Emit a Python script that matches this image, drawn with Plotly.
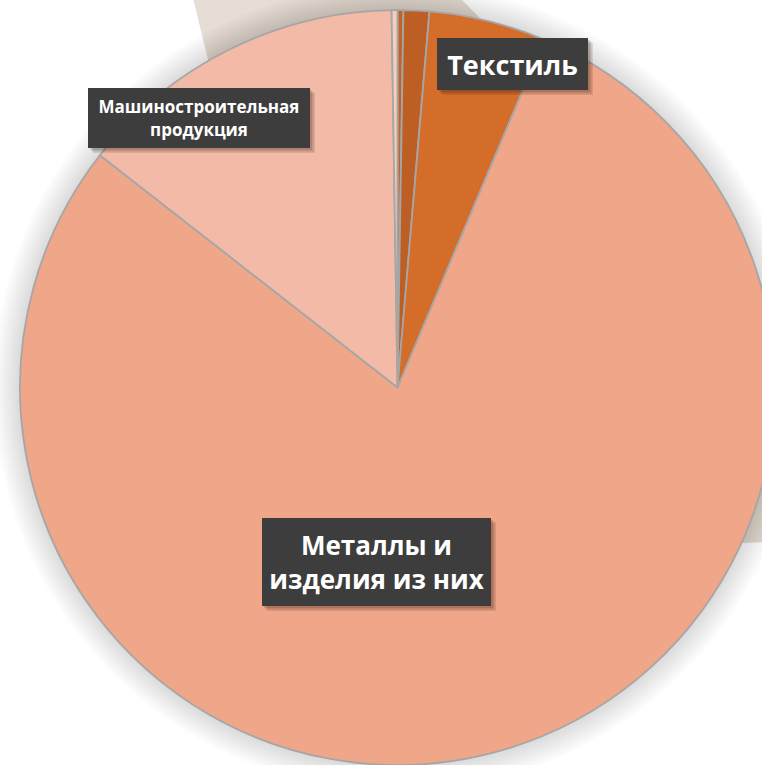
import plotly.graph_objects as go

# ---- data ----
labels = [
    "Продукция химической промышленности",
    "Древесина и изделия из неё",
    "Текстиль",
    "Металлы и изделия из них",
    "Машиностроительная продукция",
    "Прочие товары",
]
values = [0.25, 1.1, 5.0, 79.2, 14.2, 0.25]
colors = ["#c0622a", "#bd5f24", "#d46c2a", "#f0a688", "#f3bba7", "#f7cdbc"]

# labels shown on the chart (display text)
shown_labels = ["Текстиль", "Машиностроительная продукция", "Металлы и изделия из них"]
shown_text = ["Текстиль", "Машиностроительная<br>продукция", "Металлы и<br>изделия из них"]

# ---- layout geometry (pixels) ----
W, H = 777, 765
ML, MR, MT, MB = 18, 0, 10, 0
PW, PH = W - ML - MR, H - MT - MB
CX, CY, R = 397.5, 387.5, 377.5


def px(x):
    return (x - ML) / PW


def py(y):
    return 1 - (y - MT) / PH


fig = go.Figure(
    go.Pie(
        labels=labels,
        values=values,
        sort=False,
        direction="clockwise",
        rotation=0,
        marker=dict(colors=colors, line=dict(color="#a6a6a6", width=1.8)),
        textinfo="none",
        showlegend=False,
        hovertemplate="%{label}: %{value}%<extra></extra>",
    )
)

shapes = []
# background tilted card
shapes.append(dict(
    type="path", xref="paper", yref="paper", layer="below",
    path="M {} {} L {} {} L {} {} L {} {} L {} {} Z".format(
        px(193), py(-2), px(460), py(-2), px(790), py(330),
        px(790), py(541), px(330), py(560)),
    fillcolor="#e6ddd4", line=dict(width=0),
))
# soft shadow round the pie
for k in range(12, 0, -1):
    rr = R + 2.2 * k
    shapes.append(dict(
        type="circle", xref="paper", yref="paper", layer="below",
        x0=px(CX - rr), x1=px(CX + rr), y0=py(CY + rr), y1=py(CY - rr),
        fillcolor="rgba(0,0,0,0.012)", line=dict(width=0),
    ))

# label boxes: (left, top, right, bottom, font size)
boxes = [
    (437, 38, 588, 90, 27),
    (88, 88, 310, 148, 17),
    (262, 518, 491, 606, 26),
]
annotations = []
for (x0, y0, x1, y1, fs), txt in zip(boxes, shown_text):
    for d, a in ((5, 0.12), (3.5, 0.15), (2, 0.15)):
        shapes.append(dict(
            type="rect", xref="paper", yref="paper", layer="above",
            x0=px(x0 + d), x1=px(x1 + d), y0=py(y1 + d), y1=py(y0 + d),
            fillcolor="rgba(60,30,20,{})".format(a), line=dict(width=0),
        ))
    annotations.append(dict(
        xref="paper", yref="paper",
        x=px((x0 + x1) / 2), y=py((y0 + y1) / 2),
        xanchor="center", yanchor="middle",
        width=x1 - x0, height=y1 - y0,
        text="<b>" + txt + "</b>", showarrow=False,
        bgcolor="#3d3d3d", borderwidth=0, borderpad=0,
        font=dict(family="Open Sans, sans-serif", size=fs, color="white"),
        align="center", valign="middle",
    ))

fig.update_layout(
    width=W, height=H,
    margin=dict(l=ML, r=MR, t=MT, b=MB),
    paper_bgcolor="white",
    plot_bgcolor="white",
    shapes=shapes,
    annotations=annotations,
)

fig.write_html(
    "out.html",
    config={"displayModeBar": False},
    post_script="document.body.style.margin='0';document.body.style.overflow='hidden';"
                "document.documentElement.style.overflow='hidden';",
)
